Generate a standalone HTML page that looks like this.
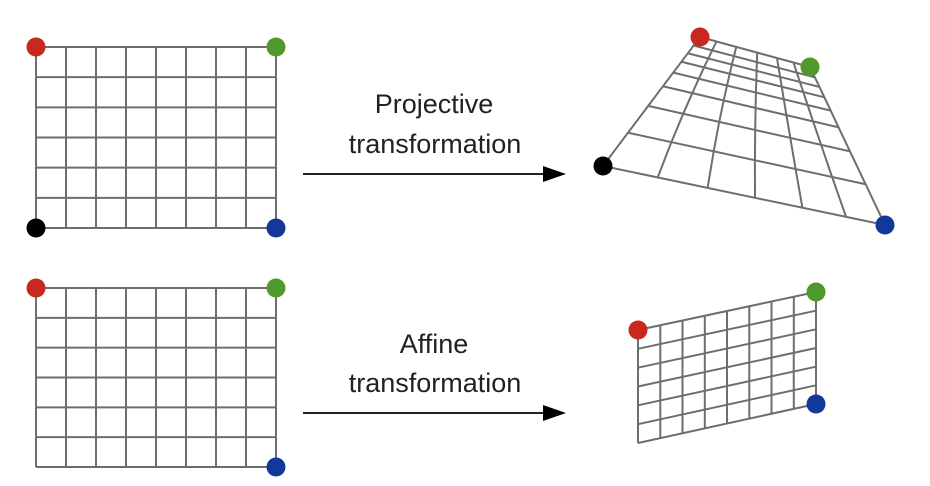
<!DOCTYPE html>
<html><head><meta charset="utf-8"><style>
html,body{margin:0;padding:0;background:#fff;}
svg{display:block;font-family:"Liberation Sans",Arial,sans-serif;}
</style></head><body>
<svg id="s" width="930" height="486" viewBox="0 0 930 486" xmlns="http://www.w3.org/2000/svg">
<g id="grids"></g>
<line x1="303" y1="174" x2="546" y2="174" stroke="#222" stroke-width="2"/>
<path d="M543,166 L566,174 L543,182 Z" fill="#000"/>
<text x="434" y="113" font-size="27" text-anchor="middle" fill="#222">Projective</text>
<text x="435" y="153" font-size="27" text-anchor="middle" fill="#222">transformation</text>
<line x1="303" y1="413" x2="546" y2="413" stroke="#222" stroke-width="2"/>
<path d="M543,405 L566,413 L543,421 Z" fill="#000"/>
<text x="434" y="353" font-size="27" text-anchor="middle" fill="#222">Affine</text>
<text x="435" y="392" font-size="27" text-anchor="middle" fill="#222">transformation</text>
<g id="dots"></g>
</svg>
<script>
const NS="http://www.w3.org/2000/svg";
const even=n=>Array.from({length:n+1},(_,i)=>i/n);
// projective grid fractions
const projRows=[0,0.066,0.126,0.192,0.276,0.382,0.534,0.742,1];
const projColsTop=[0,0.15,0.33,0.52,0.70,0.85,1];
const projColsBottom=[0,0.194,0.371,0.539,0.707,0.862,1];
// corners: TL, TR, BR, BL
const quads=[
 {name:"source-grid-top", c:[[36,47],[276,47],[276,228],[36,228]], rows:even(6), ct:even(8), cb:even(8), dots:["#c8281e","#4f9a2a","#12399a","#000"]},
 {name:"projective-grid", c:[[700,37],[810,67],[885,225],[603,166]], rows:projRows, ct:projColsTop, cb:projColsBottom, dots:["#c8281e","#4f9a2a","#12399a","#000"]},
 {name:"source-grid-bottom", c:[[36,288],[276,288],[276,467],[36,467]], rows:even(6), ct:even(8), cb:even(8), dots:["#c8281e","#4f9a2a","#12399a",null]},
 {name:"affine-grid", c:[[638,330],[816,292],[816,404],[638,443]], rows:even(6), ct:even(8), cb:even(8), dots:["#c8281e","#4f9a2a","#12399a",null]}
];
function bil(c){
 return (u,v)=>{const x=(1-u)*(1-v)*c[0][0]+u*(1-v)*c[1][0]+u*v*c[2][0]+(1-u)*v*c[3][0];
 const y=(1-u)*(1-v)*c[0][1]+u*(1-v)*c[1][1]+u*v*c[2][1]+(1-u)*v*c[3][1];return [x,y];};
}
const G=document.getElementById('grids'),D=document.getElementById('dots');
quads.forEach(q=>{
 const f=bil(q.c);
 const g=document.createElementNS(NS,'g');
 
 
 let d="";
 for(let i=0;i<q.ct.length;i++){
  let pts=[];
  for(let j=0;j<q.rows.length;j++){const v=q.rows[j];const u=q.ct[i]*(1-v)+q.cb[i]*v;pts.push(f(u,v));}
  d+="M"+pts.map(p=>p[0].toFixed(1)+","+p[1].toFixed(1)).join("L");
 }
 for(let j=0;j<q.rows.length;j++){const v=q.rows[j];const p=f(0,v),r=f(1,v);d+=`M${p[0]},${p[1]}L${r[0]},${r[1]}`;}
 const path=document.createElementNS(NS,'path');
 
 
 path.setAttribute('d',d);path.setAttribute('stroke','#6e6e6e');path.setAttribute('stroke-width','2');path.setAttribute('fill','none');path.setAttribute('stroke-linejoin','round');
 g.appendChild(path);G.appendChild(g);
 q.dots.forEach((col,k)=>{if(!col)return;
  const ci=document.createElementNS(NS,'circle');
  
  
  ci.setAttribute('cx',q.c[k][0]);ci.setAttribute('cy',q.c[k][1]);ci.setAttribute('r','9.5');ci.setAttribute('fill',col);
  D.appendChild(ci);});
});
</script>
</body></html>
